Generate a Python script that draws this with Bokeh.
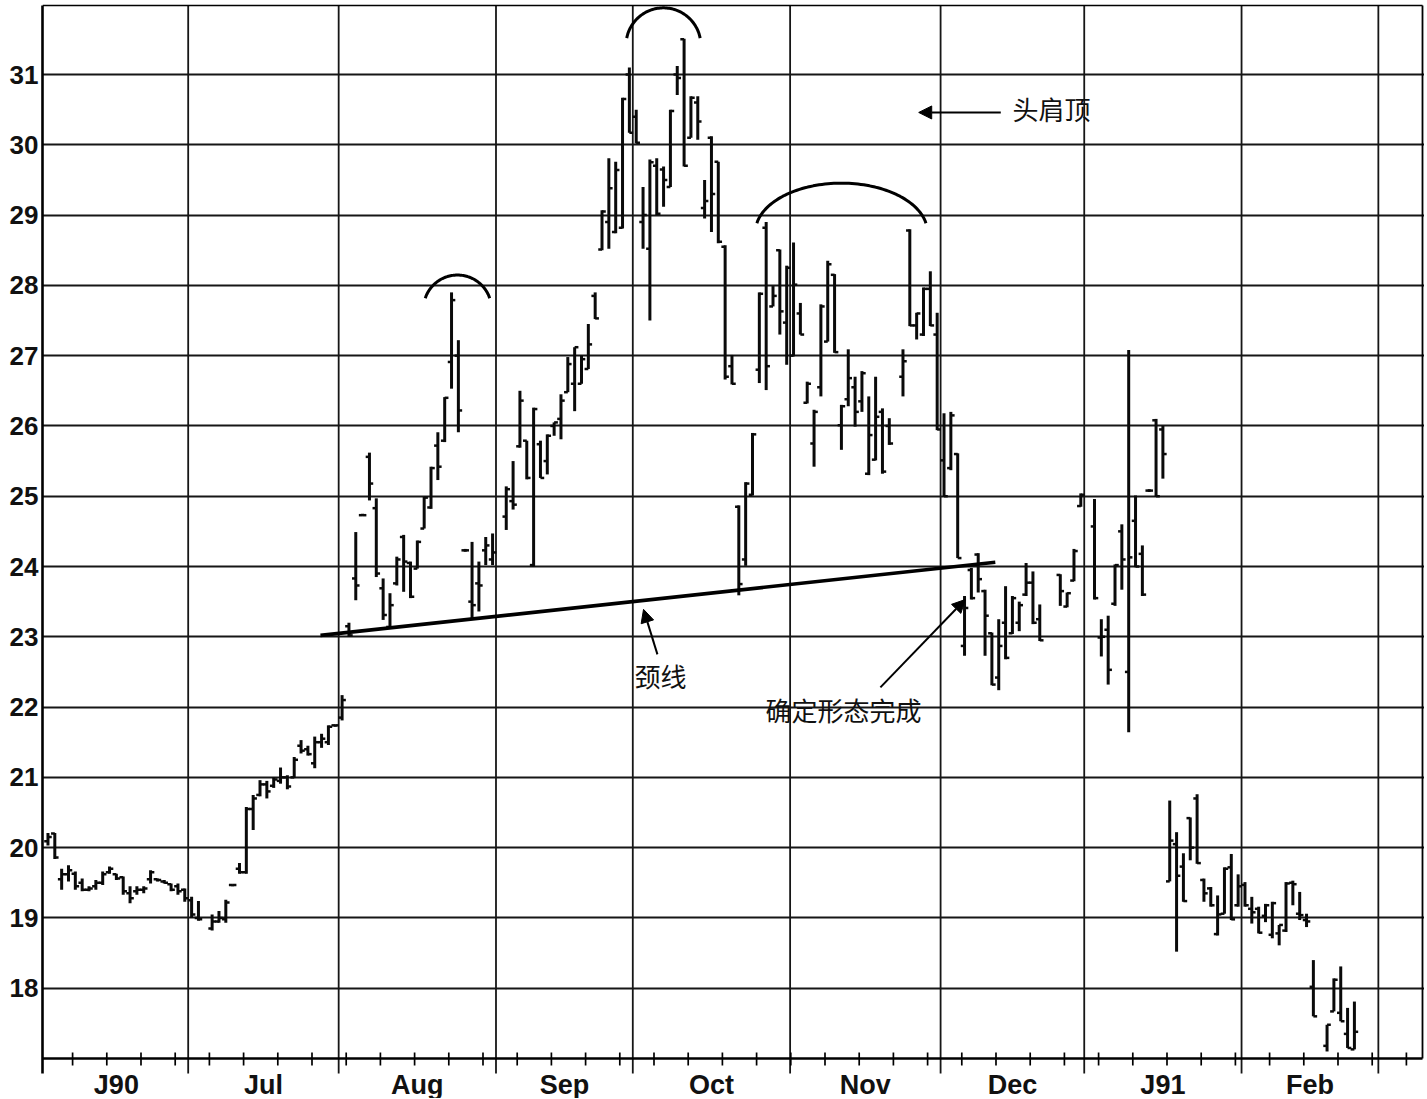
import numpy as np
from bokeh.plotting import figure
from bokeh.models import (Range1d, FixedTicker, Label, Arrow, NormalHead, ColumnDataSource)
from bokeh.core.properties import value
from bokeh.embed import file_html
from bokeh.resources import INLINE

# ---------------- data (weekday index from 1 Jun 1990) ----------------
day = [0, 1, 2, 3, 4, 5, 6, 7, 8, 9, 10, 11, 12, 13, 14, 15, 16, 17, 18, 19, 20,
       21, 22, 24, 25, 26, 27, 28, 29, 30, 31, 32, 33, 34, 35, 36, 37, 38, 39, 40, 41, 42, 43,
       44, 45, 46, 47, 48, 49, 50, 51, 52, 53, 54, 55, 56, 57, 58, 59, 60, 61, 62, 63, 64, 65,
       67, 68, 69, 70, 71, 72, 73, 74, 75, 76, 77, 78, 79, 80, 81, 82, 83, 84, 85,
       86, 87, 88, 89, 90, 91, 92, 93, 94, 95, 96, 97, 98, 99, 100, 101, 102, 103, 104, 105, 106, 107, 108,
       109, 110, 111, 112, 113, 114, 115, 116, 117, 118, 119, 120, 121, 122, 123, 125, 126, 127, 128, 129, 130,
       131, 132, 133, 134, 135, 136, 137, 138, 139, 140, 141, 142, 143, 144, 145, 148, 149, 150, 151,
       153, 154, 155, 156, 157, 158, 159, 160, 161, 162, 163, 164, 165, 166, 167, 168, 169, 170, 171, 172, 173, 174,
       175, 176, 177, 178, 179, 180, 181, 182, 183, 184, 185, 187, 188, 189, 190, 191]

open_ = [20.09, 20.20, 19.55, 19.62, 19.63, 19.50, 19.40, 19.45, 19.50, 19.65, 19.62, 19.58, 19.35, 19.38, 19.40, 19.55, 19.55, 19.52, 19.48, 19.45, 19.40,
         19.25, 19.00, 18.85, 18.95, 18.98, 19.47, 19.70, 19.65, 20.55, 20.75, 20.90, 20.88, 20.95, 21.00, 21.00, 21.45, 21.40, 21.20, 21.50, 21.50, 21.74, 21.85,
         23.15, 23.83, 24.73, 25.56, 24.83, 23.69, 23.14, 23.76, 24.42, 24.05, 23.97, 24.54, 24.84, 25.72, 25.79, 26.91, 27.00, 24.23, 23.50, 23.76, 24.23, 24.10,
         24.71, 24.93, 25.71, 25.79, 24.02, 25.74, 25.50, 26.00, 26.10, 26.48, 26.60, 26.60, 26.81, 27.85, 28.51, 28.90, 28.76, 28.82, 31.00,
         30.40, 28.90, 28.52, 29.70, 29.65, 29.40, 31.00, 31.50, 30.10, 30.60, 29.10, 30.10, 29.76, 28.55, 26.85, 24.85, 24.10, 25.02, 26.80, 28.82, 27.70, 28.50, 27.47,
         27.00, 27.60, 26.33, 25.75, 26.55, 27.20, 28.15, 26.01, 26.38, 26.55, 26.35, 25.32, 25.52, 26.20, 26.00, 26.70, 28.78, 27.43, 27.30, 27.95, 27.30,
         25.51, 25.40, 25.60, 22.87, 23.95, 24.17, 23.65, 23.05, 22.42, 23.20, 23.05, 23.20, 23.60, 23.77, 23.25, 23.88, 23.43, 23.80, 24.86,
         24.57, 22.99, 23.10, 23.47, 24.50, 22.50, 24.65, 24.18, 25.08, 26.08, 25.95, 19.52, 20.05, 19.73, 20.42, 20.70, 19.54, 19.42, 18.77, 19.06, 19.72, 19.18,
         19.47, 19.13, 19.13, 19.03, 18.76, 18.78, 18.82, 19.50, 19.06, 18.97, 18.02, 17.18, 17.67, 17.65, 17.35, 17.13]

high = [20.21, 20.21, 19.70, 19.75, 19.66, 19.56, 19.45, 19.54, 19.66, 19.73, 19.63, 19.59, 19.45, 19.45, 19.45, 19.68, 19.56, 19.54, 19.49, 19.49, 19.42,
        19.30, 19.24, 19.05, 19.10, 19.26, 19.48, 19.78, 20.58, 20.75, 20.96, 20.95, 21.00, 21.14, 21.03, 21.29, 21.53, 21.45, 21.58, 21.62, 21.74, 21.75, 22.17,
        23.20, 24.49, 24.75, 25.62, 24.97, 23.83, 23.62, 24.14, 24.45, 24.07, 24.37, 24.99, 25.42, 25.91, 26.41, 27.90, 27.22, 24.25, 24.35, 24.07, 24.42, 24.47,
        25.14, 25.50, 26.50, 25.79, 26.26, 25.79, 25.88, 26.05, 26.45, 26.98, 27.12, 27.00, 27.45, 27.90, 29.07, 29.81, 29.76, 30.67, 31.10,
        30.50, 29.40, 29.79, 29.81, 29.69, 30.50, 31.12, 31.51, 30.69, 30.69, 29.50, 30.12, 29.76, 28.57, 27.01, 24.87, 25.20, 25.90, 27.90, 28.90, 27.99, 28.51, 28.28,
        28.61, 27.75, 26.63, 26.23, 27.73, 28.35, 28.16, 26.30, 27.09, 26.70, 26.78, 26.42, 26.70, 26.25, 26.11, 27.09, 28.80, 27.61, 27.97, 28.20, 27.61,
        26.18, 26.20, 25.61, 23.58, 23.98, 24.19, 23.67, 23.06, 23.25, 23.72, 23.58, 23.50, 24.05, 23.93, 23.46, 23.89, 23.63, 24.25, 25.04,
        24.96, 23.25, 23.30, 24.03, 24.60, 27.08, 25.01, 24.30, 25.10, 26.10, 26.00, 20.67, 20.22, 19.92, 20.43, 20.76, 19.56, 19.44, 19.32, 19.72, 19.91, 19.62,
        19.51, 19.30, 19.16, 19.20, 19.23, 18.90, 19.51, 19.53, 19.37, 19.06, 18.40, 17.48, 18.14, 18.31, 17.72, 17.81]

low = [20.03, 19.84, 19.40, 19.52, 19.40, 19.38, 19.38, 19.40, 19.47, 19.63, 19.54, 19.33, 19.21, 19.33, 19.35, 19.49, 19.52, 19.49, 19.38, 19.33, 19.23,
       19.00, 18.96, 18.82, 18.93, 18.93, 19.45, 19.63, 19.63, 20.25, 20.73, 20.70, 20.85, 20.91, 20.83, 20.99, 21.34, 21.31, 21.13, 21.42, 21.46, 21.72, 21.81,
       23.00, 23.52, 24.72, 24.94, 23.85, 23.24, 23.12, 23.73, 23.64, 23.55, 23.97, 24.54, 24.82, 25.23, 25.77, 26.53, 25.91, 24.21, 23.24, 23.36, 24.02, 24.02,
       24.52, 24.81, 25.69, 25.24, 24.00, 25.26, 25.31, 25.86, 25.81, 26.48, 26.21, 26.60, 26.81, 27.52, 28.50, 28.52, 28.74, 28.81, 30.17,
       30.02, 28.52, 27.50, 29.00, 29.12, 29.40, 30.71, 29.69, 30.10, 30.07, 28.95, 28.76, 28.60, 26.66, 26.59, 23.59, 24.01, 25.01, 26.61, 26.51, 27.70, 27.30, 26.87,
       26.99, 27.30, 26.32, 25.42, 26.42, 27.20, 27.04, 25.66, 26.28, 25.99, 26.20, 25.30, 25.51, 25.32, 25.73, 26.42, 27.42, 27.23, 27.28, 27.42, 25.94,
       24.99, 25.37, 24.12, 22.73, 23.53, 23.63, 22.73, 22.31, 22.24, 22.68, 23.04, 23.08, 23.58, 23.18, 22.94, 23.44, 23.42, 23.79, 24.85,
       23.53, 22.72, 22.32, 23.44, 23.67, 21.64, 23.99, 23.58, 25.06, 24.99, 25.25, 19.52, 18.52, 19.23, 19.82, 19.77, 19.23, 19.16, 18.75, 19.06, 18.97, 19.16,
       19.16, 18.92, 18.78, 18.94, 18.71, 18.61, 18.80, 19.18, 18.97, 18.87, 17.60, 17.10, 17.67, 17.53, 17.15, 17.13]

close = [20.15, 19.86, 19.62, 19.68, 19.45, 19.40, 19.42, 19.50, 19.62, 19.70, 19.56, 19.38, 19.28, 19.40, 19.42, 19.65, 19.54, 19.50, 19.40, 19.38, 19.28,
         19.05, 18.98, 18.95, 19.00, 19.22, 19.47, 19.65, 20.55, 20.70, 20.90, 20.80, 20.97, 21.00, 20.87, 21.25, 21.38, 21.33, 21.50, 21.55, 21.72, 21.74, 22.10,
         23.02, 23.73, 24.73, 25.18, 23.90, 23.31, 23.45, 24.10, 24.07, 23.57, 24.35, 24.98, 25.40, 25.42, 26.40, 27.79, 26.22, 24.23, 23.45, 23.73, 24.30, 24.20,
         25.10, 24.88, 26.36, 25.26, 26.24, 25.26, 25.86, 26.05, 26.36, 26.88, 27.12, 26.95, 27.16, 27.53, 29.05, 29.38, 29.64, 30.65, 30.17,
         30.03, 29.00, 29.75, 29.02, 29.50, 30.48, 30.95, 29.70, 30.67, 30.33, 29.20, 29.30, 28.62, 26.70, 26.60, 23.75, 25.18, 25.88, 27.88, 26.85, 27.85, 27.63, 28.25,
         28.01, 27.30, 26.60, 26.20, 27.70, 28.30, 27.05, 26.28, 26.68, 26.20, 26.75, 25.87, 26.13, 25.35, 25.75, 26.92, 27.43, 27.60, 27.95, 27.43, 25.95,
         25.00, 26.15, 24.12, 23.41, 23.55, 23.82, 23.30, 22.32, 22.87, 22.70, 23.55, 23.45, 23.77, 23.20, 22.95, 23.65, 23.62, 24.22, 25.02,
         23.55, 23.00, 22.53, 24.02, 24.10, 24.13, 24.00, 23.60, 25.08, 25.00, 25.60, 20.10, 19.60, 19.24, 20.00, 19.78, 19.35, 19.18, 19.05, 19.70, 18.98, 19.45,
         19.18, 19.08, 18.79, 19.18, 19.21, 18.90, 19.49, 19.48, 19.04, 18.95, 17.60, 17.48, 18.12, 17.53, 17.15, 17.38]

month_labels = ["J90", "Jul", "Aug", "Sep", "Oct", "Nov", "Dec", "J91", "Feb"]
month_start = [0, 21, 43, 66, 86, 109, 131, 152, 175, 195]   # weekday index of 1st weekday
price_ticks = list(range(18, 32))
y_axis_level = 17

# ---------------- layout ----------------
W, H = 1424, 1098
BL, BR, BT, BB = 42, 0, 3, 0
PXX = 6.84
PXY = (1058 - 74) / 14.0
X0 = -0.8
X1 = X0 + (W - BL - BR) / PXX
Y1 = 31 + (74 - BT) / PXY
Y0 = Y1 - (H - BT - BB) / PXY

p = figure(width=W, height=H, output_backend="svg", toolbar_location=None,
           x_range=Range1d(X0, X1), y_range=Range1d(Y0, Y1),
           min_border_left=BL, min_border_right=BR, min_border_top=BT, min_border_bottom=BB,
           background_fill_color="white", border_fill_color="white")
p.outline_line_color = None
p.xaxis.visible = False
p.xgrid.visible = False

y_tick_low = y_axis_level - 15 / PXY      # month ticks reach below the axis
y_top = 31 + 69 / PXY                     # top border
x_right = X0 + (1422 - 42) / PXX          # right border

# y axis
p.yaxis.ticker = FixedTicker(ticks=price_ticks, minor_ticks=[])
p.yaxis.bounds = (y_tick_low, y_top)
p.yaxis.major_label_text_font = "Liberation Sans"
p.yaxis.major_label_text_font_style = "bold"
p.yaxis.major_label_text_font_size = "26px"
p.yaxis.major_label_text_color = "#111111"
p.yaxis.major_label_standoff = 4
p.yaxis.major_tick_in = 0
p.yaxis.major_tick_out = 0
p.yaxis.axis_line_width = 2.6
p.yaxis.axis_line_color = "black"

p.ygrid.ticker = FixedTicker(ticks=price_ticks)
p.ygrid.grid_line_color = "#161616"
p.ygrid.grid_line_width = 1.8

# month boundary lines (grid + long ticks below the axis)
bounds = [m - 0.5 for m in month_start[1:]]
p.segment(x0=bounds, y0=[y_tick_low] * len(bounds), x1=bounds, y1=[y_top] * len(bounds),
          line_color="#161616", line_width=1.8)

# bottom axis line, top and right border
p.line([X0, x_right], [y_axis_level, y_axis_level], line_color="black", line_width=2.6)
p.line([X0, x_right], [y_top, y_top], line_color="black", line_width=1.6)
p.line([x_right, x_right], [y_axis_level, y_top], line_color="black", line_width=1.8)

# weekly ticks across the axis
weekly = [5 * k + 3.6 for k in range(40)]
p.segment(x0=weekly, y0=[y_axis_level - 7 / PXY] * len(weekly),
          x1=weekly, y1=[y_axis_level + 6 / PXY] * len(weekly),
          line_color="black", line_width=1.7)

# month names
centers = [(month_start[i] + month_start[i + 1]) / 2 - 0.5 for i in range(len(month_labels))]
p.text(x=centers, y=[y_axis_level - 26 / PXY] * len(centers), text=month_labels,
       text_align="center", text_baseline="middle", text_font=value("Liberation Sans"),
       text_font_style="bold", text_font_size="27px", text_color="#111111")

# ---------------- OHLC bars ----------------
TK = 0.55
src = ColumnDataSource(dict(x=day, o=open_, h=high, l=low, c=close,
                            xl=[d - TK for d in day], xr=[d + TK for d in day]))
p.segment(x0="x", y0="l", x1="x", y1="h", source=src, line_color="#0a0a0a", line_width=3.0)
p.segment(x0="xl", y0="o", x1="x", y1="o", source=src, line_color="#0a0a0a", line_width=2.5)
p.segment(x0="x", y0="c", x1="xr", y1="c", source=src, line_color="#0a0a0a", line_width=2.5)

# ---------------- annotations ----------------
neck_x = [39.84, 138.5]
neck_y = [23.02, 24.06]
p.line(neck_x, neck_y, line_color="black", line_width=3.6)


def arc_pts(cx, cy, rx, ry, a0, a1):
    t = np.radians(np.linspace(a0, a1, 80))
    return cx + rx * np.cos(t) / PXX, cy + ry * np.sin(t) / PXY

# (center x, center y, radius x px, radius y px, start deg, end deg)
arcs = [(59.87, 27.663, 34, 34, 18.6, 161.4),
        (89.98, 31.416, 37.4, 37.4, 11, 169),
        (116.0, 28.757, 86, 49, 10.6, 169.4)]
for a in arcs:
    ax, ay = arc_pts(*a)
    p.line(ax, ay, line_color="black", line_width=3)

CJK = "Noto Sans CJK SC"


def arrow(x0, y0, x1, y1):
    p.add_layout(Arrow(end=NormalHead(size=13, fill_color="black", line_color="black"),
                       x_start=x0, y_start=y0, x_end=x1, y_end=y1,
                       line_color="black", line_width=2))

arrow(139.3, 30.46, 127.3, 30.46)
p.add_layout(Label(x=141.0, y=30.51, text="头肩顶", text_font=CJK, text_font_size="26px",
                   text_align="left", text_baseline="middle", text_color="#111111"))

arrow(89.1, 22.75, 87.07, 23.39)
p.add_layout(Label(x=89.55, y=22.45, text="颈线", text_font=CJK, text_font_size="26px",
                   text_align="center", text_baseline="middle", text_color="#111111"))

arrow(121.7, 22.28, 134.1, 23.53)
p.add_layout(Label(x=116.3, y=21.97, text="确定形态完成", text_font=CJK, text_font_size="26px",
                   text_align="center", text_baseline="middle", text_color="#111111"))

open("out.html", "w").write(file_html(p, INLINE))
